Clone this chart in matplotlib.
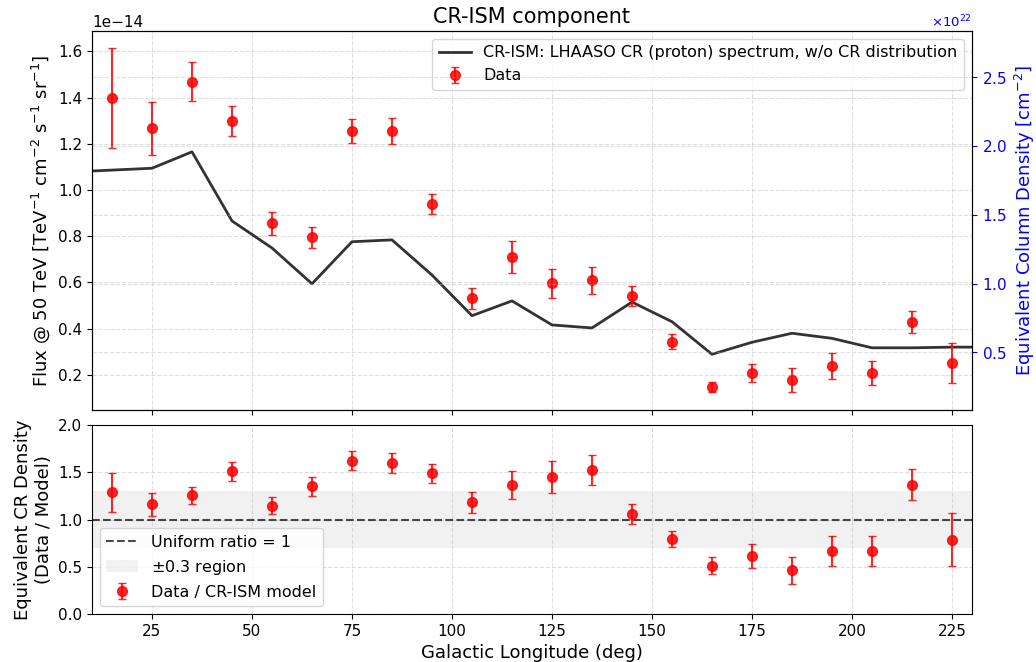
import numpy as np
import matplotlib
matplotlib.use("Agg")
import matplotlib.pyplot as plt
from matplotlib.ticker import ScalarFormatter

# model curve (CR-ISM, in units of 1e-14)
model_l = [10, 25, 35, 45, 55, 65, 75, 85, 95, 105, 115, 125, 135, 145, 155,
           165, 175, 185, 195, 205, 215, 225, 230]
model_flux = [1.082, 1.094, 1.165, 0.866, 0.749, 0.594, 0.776, 0.784, 0.632, 0.456,
              0.520, 0.416, 0.403, 0.515, 0.430, 0.289, 0.341, 0.380, 0.358, 0.317,
              0.317, 0.320, 0.320]

# data points
data_l = [15, 25, 35, 45, 55, 65, 75, 85, 95, 105, 115, 125, 135, 145, 155,
          165, 175, 185, 195, 205, 215, 225]
data_flux = [1.398, 1.267, 1.469, 1.300, 0.856, 0.795, 1.255, 1.255, 0.938, 0.531,
             0.709, 0.597, 0.610, 0.541, 0.343, 0.147, 0.208, 0.176, 0.238, 0.209,
             0.430, 0.250]
data_err = [0.215, 0.115, 0.084, 0.065, 0.049, 0.045, 0.050, 0.056, 0.044, 0.045,
            0.070, 0.063, 0.058, 0.045, 0.032, 0.023, 0.041, 0.052, 0.055, 0.051,
            0.048, 0.087]

# data / model ratio
ratio = [1.286, 1.159, 1.258, 1.512, 1.145, 1.350, 1.621, 1.600, 1.488, 1.180,
         1.367, 1.452, 1.526, 1.060, 0.795, 0.512, 0.614, 0.462, 0.667, 0.667,
         1.367, 0.784]
ratio_err = [0.21, 0.12, 0.09, 0.10, 0.09, 0.10, 0.10, 0.105, 0.10, 0.11,
             0.15, 0.17, 0.16, 0.105, 0.085, 0.09, 0.125, 0.145, 0.16, 0.16,
             0.165, 0.28]

col_scale = 1.68e36  # column density per unit flux

fig = plt.figure(figsize=(10.36, 6.62), dpi=100)
ax = fig.add_axes([0.0888, 0.3807, 0.8494, 0.5725])
ax2 = fig.add_axes([0.0888, 0.0725, 0.8494, 0.2855], sharex=ax)

flux_model = np.array(model_flux) * 1e-14
flux_data = np.array(data_flux) * 1e-14
flux_err = np.array(data_err) * 1e-14

ax.plot(model_l, flux_model, color="black", alpha=0.8, lw=2,
        label="CR-ISM: LHAASO CR (proton) spectrum, w/o CR distribution", zorder=3)
ax.errorbar(data_l, flux_data, yerr=flux_err, fmt="o", color="red", alpha=0.85,
            ms=7, capsize=3, elinewidth=1.5, label="Data", zorder=4)
ax.set_xlim(10, 230)
ax.set_ylim(0.048e-14, 1.688e-14)
ax.set_ylabel(r"Flux @ 50 TeV [TeV$^{-1}$ cm$^{-2}$ s$^{-1}$ sr$^{-1}$]", fontsize=13)
ax.set_title("CR-ISM component", fontsize=15)
ax.grid(True, linestyle="--", alpha=0.4)
ax.tick_params(labelbottom=False, labelsize=11)
ax.yaxis.get_offset_text().set_fontsize(11)
ax.legend(loc="upper right", fontsize=11.5)

axr = ax.twinx()
lo, hi = ax.get_ylim()
axr.set_ylim(lo * col_scale, hi * col_scale)
fmt = ScalarFormatter(useMathText=True)
fmt.set_powerlimits((0, 0))
axr.yaxis.set_major_formatter(fmt)
axr.set_yticks([0.5e22, 1.0e22, 1.5e22, 2.0e22, 2.5e22])
axr.set_ylabel(r"Equivalent Column Density [cm$^{-2}$]", color="blue", fontsize=13)
axr.tick_params(axis="y", colors="blue", labelsize=11)
axr.yaxis.get_offset_text().set_color("blue")
axr.yaxis.get_offset_text().set_fontsize(9.5)
axr.grid(True, axis="y", linestyle="--", alpha=0.4)

ax2.axhline(1.0, color="black", ls="--", lw=1.5, alpha=0.7, label="Uniform ratio = 1")
ax2.axhspan(0.7, 1.3, color="lightgray", alpha=0.3, lw=0, label=r"$\pm$0.3 region")
ax2.errorbar(data_l, ratio, yerr=ratio_err, fmt="o", color="red", alpha=0.85,
             ms=7, capsize=3, elinewidth=1.5, label="Data / CR-ISM model")
ax2.set_ylim(0, 2.0)
ax2.set_yticks([0.0, 0.5, 1.0, 1.5, 2.0])
ax2.set_xticks([25, 50, 75, 100, 125, 150, 175, 200, 225])
ax2.set_xlabel("Galactic Longitude (deg)", fontsize=13)
ax2.set_ylabel("Equivalent CR Density\n(Data / Model)", fontsize=13)
ax2.grid(True, linestyle="--", alpha=0.4)
ax2.tick_params(labelsize=11)
ax2.legend(loc="lower left", fontsize=11.5)

fig.savefig("out.png", dpi=100)
